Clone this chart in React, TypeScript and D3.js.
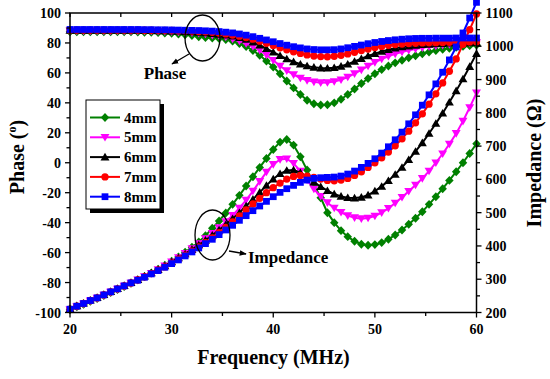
import React from "react";
import * as d3 from "d3";

const freq = [20, 20.67, 21.33, 22, 22.67, 23.33, 24, 24.67, 25.33, 26, 26.67, 27.33, 28, 28.67, 29.33, 30, 30.67, 31.33, 32, 32.67, 33.33, 34, 34.67, 35.33, 36, 36.67, 37.33, 38, 38.67, 39.33, 40, 40.67, 41.33, 42, 42.67, 43.33, 44, 44.67, 45.33, 46, 46.67, 47.33, 48, 48.67, 49.33, 50, 50.67, 51.33, 52, 52.67, 53.33, 54, 54.67, 55.33, 56, 56.67, 57.33, 58, 58.67, 59.33, 60];

const phase4 = [87.5, 87.5, 87.5, 87.5, 87.5, 87.5, 87.5, 87.5, 87.5, 87.4, 87.3, 87.2, 87.1, 86.9, 86.7, 86.4, 86.0, 85.5, 84.9, 84.2, 83.7, 83.3, 82.9, 82.3, 81.2, 79.6, 77.6, 75.0, 71.8, 68.0, 63.9, 59.4, 54.6, 50.0, 45.6, 41.8, 39.4, 38.6, 38.7, 40.0, 42.4, 45.6, 49.2, 52.9, 56.3, 59.4, 62.2, 64.6, 66.7, 68.5, 70.1, 71.5, 72.8, 73.9, 74.9, 75.8, 76.5, 77.1, 77.7, 78.2, 78.6];
const phase5 = [88.0, 88.0, 88.0, 88.0, 88.0, 88.0, 88.0, 88.0, 88.0, 88.0, 88.0, 87.9, 87.9, 87.8, 87.7, 87.5, 87.3, 87.1, 86.8, 86.4, 85.9, 85.2, 84.8, 83.9, 82.6, 81.3, 79.6, 77.6, 75.2, 72.0, 68.4, 64.6, 61.5, 58.8, 56.6, 55.0, 54.0, 53.5, 53.6, 54.2, 55.4, 57.2, 59.5, 62.0, 64.6, 67.0, 69.2, 71.1, 72.7, 74.0, 75.1, 76.0, 76.8, 77.5, 78.0, 78.5, 78.9, 79.3, 79.6, 79.9, 80.2];
const phase6 = [88.3, 88.3, 88.3, 88.3, 88.3, 88.3, 88.3, 88.3, 88.3, 88.3, 88.3, 88.2, 88.2, 88.1, 88.0, 87.9, 87.8, 87.6, 87.4, 87.1, 86.7, 86.2, 85.7, 85.2, 84.5, 83.6, 82.4, 80.6, 78.5, 76.2, 73.8, 71.5, 69.3, 67.4, 65.8, 64.6, 63.7, 63.2, 63.1, 63.5, 64.4, 65.8, 67.6, 69.5, 71.3, 72.9, 74.3, 75.5, 76.5, 77.3, 77.9, 78.4, 78.8, 79.1, 79.4, 79.6, 79.8, 79.9, 80.0, 80.1, 80.2];
const phase7 = [88.6, 88.6, 88.6, 88.6, 88.6, 88.6, 88.6, 88.6, 88.6, 88.6, 88.6, 88.5, 88.5, 88.4, 88.4, 88.3, 88.2, 88.1, 87.9, 87.7, 87.4, 87.1, 86.6, 86.0, 85.3, 84.5, 83.6, 82.5, 81.2, 79.8, 78.3, 76.8, 75.4, 74.1, 73.0, 72.0, 71.3, 70.9, 70.8, 71.1, 71.8, 72.7, 73.8, 74.9, 75.9, 76.9, 77.7, 78.4, 78.9, 79.3, 79.6, 79.8, 80.0, 80.1, 80.2, 80.3, 80.4, 80.5, 80.6, 80.7, 80.8];
const phase8 = [89.0, 89.0, 89.0, 89.0, 89.0, 89.0, 89.0, 89.0, 89.0, 89.0, 89.0, 88.9, 88.9, 88.8, 88.8, 88.7, 88.6, 88.5, 88.4, 88.3, 88.1, 87.9, 87.6, 87.2, 86.7, 86.0, 85.2, 84.2, 83.1, 82.0, 80.8, 79.6, 78.5, 77.5, 76.7, 76.0, 75.6, 75.4, 75.4, 75.5, 76.0, 76.8, 77.7, 78.6, 79.5, 80.3, 81.0, 81.6, 82.1, 82.5, 82.8, 83.0, 83.1, 83.1, 83.2, 83.2, 83.2, 83.3, 83.3, 83.3, 83.3];

const imp4 = [208, 217, 225, 234, 242, 251, 260, 269, 278, 288, 298, 308, 319, 330, 342, 354, 367, 381, 396, 412, 431, 453, 475, 499, 525, 552, 580, 608, 636, 663, 690, 712, 720, 703, 668, 628, 585, 545, 500, 470, 446, 428, 414, 405, 402, 404, 410, 420, 433, 448, 465, 483, 503, 525, 548, 572, 597, 623, 650, 678, 707];
const imp5 = [209, 218, 226, 235, 243, 252, 261, 270, 279, 288, 298, 308, 318, 329, 340, 352, 365, 378, 392, 407, 422, 438, 455, 473, 492, 514, 538, 565, 594, 622, 645, 660, 662, 648, 625, 598, 571, 549, 530, 514, 501, 491, 485, 482, 484, 490, 500, 513, 529, 546, 564, 583, 603, 625, 650, 677, 706, 738, 775, 816, 860];
const imp6 = [211, 220, 228, 237, 245, 254, 263, 272, 281, 290, 299, 309, 319, 329, 340, 352, 364, 376, 389, 403, 417, 432, 448, 464, 482, 500, 520, 540, 561, 582, 601, 617, 627, 628, 620, 607, 592, 578, 566, 556, 549, 545, 544, 546, 553, 565, 579, 596, 615, 636, 659, 684, 710, 738, 768, 799, 832, 866, 902, 939, 978];
const imp7 = [210, 219, 227, 236, 244, 253, 262, 271, 280, 289, 298, 307, 317, 327, 337, 348, 360, 372, 384, 397, 410, 424, 440, 456, 472, 490, 508, 526, 543, 560, 575, 589, 601, 609, 612, 610, 606, 601, 597, 596, 598, 603, 612, 623, 636, 650, 665, 682, 701, 722, 745, 770, 797, 826, 857, 890, 925, 962, 1006, 1050, 1097];
const imp8 = [210, 219, 227, 236, 244, 253, 262, 271, 280, 289, 297, 306, 316, 326, 336, 347, 358, 370, 382, 394, 407, 420, 434, 448, 462, 477, 491, 506, 520, 534, 548, 561, 572, 582, 591, 598, 603, 605, 606, 607, 610, 616, 625, 636, 648, 662, 679, 698, 719, 742, 767, 794, 823, 854, 887, 922, 959, 998, 1040, 1085, 1132];

const seriesNames = ["4mm", "5mm", "6mm", "7mm", "8mm"];
const seriesColors = ["#008000", "#ff00ff", "#000000", "#ff0000", "#0000ff"];
const phaseData = [phase4, phase5, phase6, phase7, phase8];
const impData = [imp4, imp5, imp6, imp7, imp8];

const xTickLabels = ["20", "30", "40", "50", "60"];

const diamond = {
  draw(ctx: any, size: number) {
    const h = Math.sqrt(size) * 0.62;
    const w = h * 0.95;
    ctx.moveTo(0, -h);
    ctx.lineTo(w, 0);
    ctx.lineTo(0, h);
    ctx.lineTo(-w, 0);
    ctx.closePath();
  },
};
const triDown = {
  draw(ctx: any, size: number) {
    const s = Math.sqrt(size) * 0.62;
    ctx.moveTo(-s, -s * 0.75);
    ctx.lineTo(s, -s * 0.75);
    ctx.lineTo(0, s * 0.95);
    ctx.closePath();
  },
};
const triUp = {
  draw(ctx: any, size: number) {
    const s = Math.sqrt(size) * 0.62;
    ctx.moveTo(-s, s * 0.75);
    ctx.lineTo(s, s * 0.75);
    ctx.lineTo(0, -s * 0.95);
    ctx.closePath();
  },
};
const symbolTypes: any[] = [diamond, triDown, triUp, d3.symbolCircle, d3.symbolSquare];
const symbolSizes = [52, 52, 52, 42, 46];

const FONT = "'Liberation Serif', 'Times New Roman', serif";

export default function App() {
  const left = 70, right = 476.5, top = 13, bottom = 312.5;
  const x = d3.scaleLinear().domain([20, 60]).range([left, right]);
  const yL = d3.scaleLinear().domain([-100, 100]).range([bottom, top]);
  const yR = d3.scaleLinear().domain([200, 1100]).range([bottom, top]);

  const phaseLine = d3.line<number>().x((_, i) => x(freq[i])).y((d) => yL(d));
  const impLine = d3.line<number>().x((_, i) => x(freq[i])).y((d) => yR(d));

  const xMinor = x.ticks(8);
  const xMajor = x.ticks(4);
  const yLMinor = yL.ticks(20);
  const yLMajor = yL.ticks(10);
  const yRMinor = yR.ticks(18);
  const yRMajor = yR.ticks(9);

  const sym = (i: number) => d3.symbol().type(symbolTypes[i]).size(symbolSizes[i])() as string;

  const legendX = 86, legendY = 100, legendW = 74, legendH = 109;
  const rowY = (i: number) => 117.5 + i * 19.8;

  return (
    <svg width={550} height={379} style={{ position: "absolute", left: 0, top: 0, background: "#fff" }} fontFamily={FONT}>
      <defs>
        <marker id="arr" viewBox="0 0 10 10" refX="9" refY="5" markerWidth="7" markerHeight="7" orient="auto-start-reverse" markerUnits="userSpaceOnUse">
          <path d="M0,1 L10,5 L0,9 Z" fill="#000" />
        </marker>
      </defs>
      <rect x={0} y={0} width={550} height={379} fill="#fff" />

      {phaseData.map((_, si) => (
        <g key={"s" + si}>
          <path d={impLine(impData[si]) as string} fill="none" stroke={seriesColors[si]} strokeWidth={2} />
          <path d={phaseLine(phaseData[si]) as string} fill="none" stroke={seriesColors[si]} strokeWidth={2} />
          {impData[si].map((v, i) => (
            <path key={"i" + i} d={sym(si)} transform={`translate(${x(freq[i])},${yR(v)})`} fill={seriesColors[si]} />
          ))}
          {phaseData[si].map((v, i) => (
            <path key={"p" + i} d={sym(si)} transform={`translate(${x(freq[i])},${yL(v)})`} fill={seriesColors[si]} />
          ))}
        </g>
      ))}

      <rect x={left} y={top} width={right - left} height={bottom - top} fill="none" stroke="#000" strokeWidth={1.5} />

      {xMinor.map((t) => (
        <line key={"xb" + t} x1={x(t)} x2={x(t)} y1={bottom} y2={bottom + (xMajor.includes(t) ? 5 : 3.5)} stroke="#000" strokeWidth={1.3} />
      ))}
      {xMinor.map((t) => (
        <line key={"xt" + t} x1={x(t)} x2={x(t)} y1={top} y2={top + 4} stroke="#000" strokeWidth={1.3} />
      ))}
      {xMajor.map((t, i) => (
        <text key={"xl" + t} x={x(t)} y={334} textAnchor="middle" fontSize={14} fontWeight="bold">{xTickLabels[i]}</text>
      ))}

      {yLMinor.map((t) => (
        <line key={"yl" + t} x1={left} x2={left - (yLMajor.includes(t) ? 5 : 3.5)} y1={yL(t)} y2={yL(t)} stroke="#000" strokeWidth={1.3} />
      ))}
      {yLMajor.map((t) => (
        <text key={"yll" + t} x={left - 9} y={yL(t) + 5} textAnchor="end" fontSize={14} fontWeight="bold">{t}</text>
      ))}

      {yRMinor.map((t) => (
        <line key={"yr" + t} x1={right} x2={right + (yRMajor.includes(t) ? 5 : 3.5)} y1={yR(t)} y2={yR(t)} stroke="#000" strokeWidth={1.3} />
      ))}
      {yRMajor.map((t) => (
        <text key={"yrl" + t} x={right + 9} y={yR(t) + 5} textAnchor="start" fontSize={14} fontWeight="bold">{t}</text>
      ))}

      <text x={273.5} y={364} textAnchor="middle" fontSize={20} fontWeight="bold">Frequency (MHz)</text>
      <text transform="translate(24,157) rotate(-90)" textAnchor="middle" fontSize={20} fontWeight="bold">
        Phase (<tspan fontSize={12} dy={-8}>o</tspan><tspan dy={8}>)</tspan>
      </text>
      <text transform="translate(541,163) rotate(-90)" textAnchor="middle" fontSize={20} fontWeight="bold">Impedance (Ω)</text>

      <ellipse cx={202.5} cy={38} rx={17.5} ry={23} fill="none" stroke="#000" strokeWidth={1.3} />
      <line x1={189} x2={172} y1={54} y2={64} stroke="#000" strokeWidth={1.3} markerEnd="url(#arr)" />
      <text x={165} y={79} textAnchor="middle" fontSize={17} fontWeight="bold">Phase</text>

      <ellipse cx={212.5} cy={235} rx={17.5} ry={25} fill="none" stroke="#000" strokeWidth={1.3} />
      <line x1={229} x2={246} y1={251} y2={254} stroke="#000" strokeWidth={1.3} markerEnd="url(#arr)" />
      <text x={248} y={263} fontSize={17} fontWeight="bold">Impedance</text>

      <rect x={legendX + 4} y={legendY + 4} width={legendW} height={legendH} fill="#000" />
      <rect x={legendX} y={legendY} width={legendW} height={legendH} fill="#fff" stroke="#000" strokeWidth={1} />
      {seriesNames.map((n, i) => (
        <g key={"lg" + i}>
          <line x1={90} x2={120} y1={rowY(i)} y2={rowY(i)} stroke={seriesColors[i]} strokeWidth={2} />
          <path d={sym(i)} transform={`translate(105,${rowY(i)})`} fill={seriesColors[i]} />
          <text x={124} y={rowY(i) + 5} fontSize={15} fontWeight="bold">{n}</text>
        </g>
      ))}
    </svg>
  );
}
